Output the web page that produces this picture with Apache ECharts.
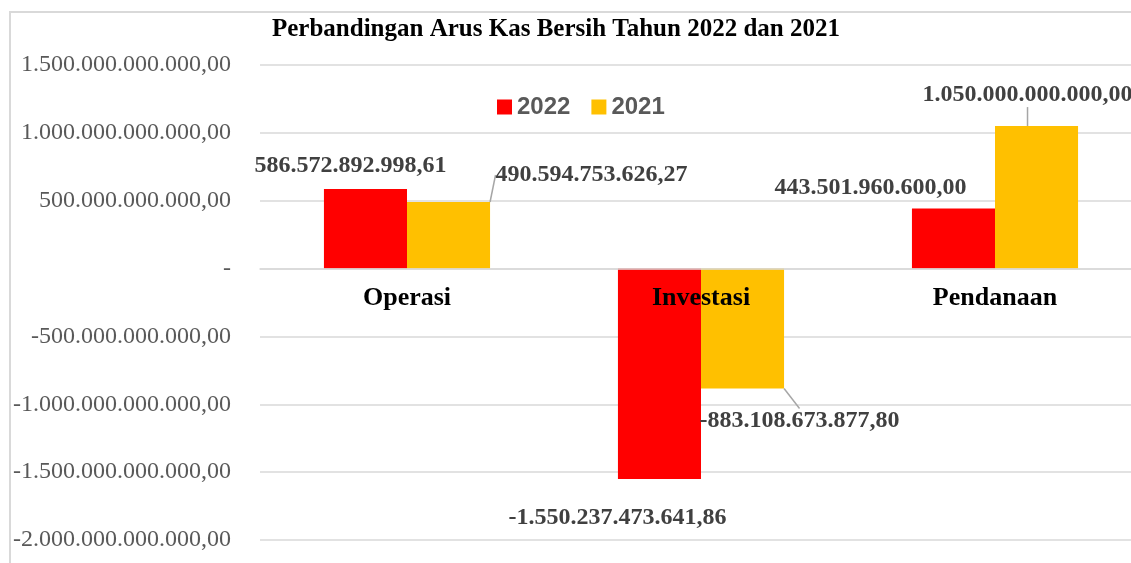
<!DOCTYPE html>
<html>
<head>
<meta charset="utf-8">
<script src="https://cdn.jsdelivr.net/npm/echarts@6/dist/echarts.min.js"></script>
<style>
  html, body { margin: 0; padding: 0; background: #fff; }
  #root { width: 1131px; height: 563px; }
</style>
</head>
<body>
<div id="root"></div>
<script>
const categories = ["Operasi", "Investasi", "Pendanaan"];
const seriesNames = ["2022", "2021"];
const values2022 = [586572892998.61, -1550237473641.86, 443501960600.00];
const values2021 = [490594753626.27, -883108673877.80, 1050000000000.00];
const yTicks = { min: -2000000000000, max: 1500000000000, interval: 500000000000 };

// label centre offsets from the bar end, px
const labelShift = [
  [[-15, -23], [-42, 39], [-83, -21]],
  [[143, -27], [57, 32], [-9, -31]]
];

const SERIF = '"Liberation Serif", "DejaVu Serif", serif';

function fmt(v) {
  const neg = v < 0;
  const s = Math.abs(v).toFixed(2).split(".");
  return (neg ? "-" : "") + s[0].replace(/\B(?=(\d{3})+(?!\d))/g, ".") + "," + s[1];
}

const allValues = [values2022, values2021];

function layoutFor(sIdx) {
  return function (params) {
    const r = params.rect;
    const v = allValues[sIdx][params.dataIndex];
    const endY = v < 0 ? r.y + r.height : r.y;
    const off = labelShift[sIdx][params.dataIndex];
    return {
      x: r.x + r.width / 2 + off[0],
      y: endY + off[1],
      align: "center",
      verticalAlign: "middle"
    };
  };
}

const chartDom = document.getElementById("root");
const myChart = echarts.init(chartDom);

const labelStyle = {
  show: true,
  position: "top",
  color: "#404040",
  fontFamily: SERIF,
  fontWeight: "bold",
  fontSize: 24,
  formatter: (p) => fmt(p.value)
};

// grid bottom is 540, zero line sits at 268 -> lift the category axis up to it
const GRID_TOP = 65, GRID_BOTTOM_Y = 540;
const zeroY = GRID_TOP + (GRID_BOTTOM_Y - GRID_TOP) * yTicks.max / (yTicks.max - yTicks.min);

myChart.setOption({
  animation: false,
  color: ["#FF0000", "#FFC000"],
  title: {
    text: "Perbandingan Arus Kas Bersih Tahun 2022 dan 2021",
    left: 267,
    top: 12,
    textStyle: { fontFamily: SERIF, fontWeight: "bold", fontSize: 25, color: "#000" }
  },
  graphic: [{
    type: "rect",
    shape: { x: 10, y: 12, width: 1200, height: 600 },
    style: { fill: "none", stroke: "#d9d9d9", lineWidth: 2 },
    silent: true,
    z: -10
  }],
  legend: {
    left: 492,
    top: 90,
    icon: "rect",
    itemWidth: 15,
    itemHeight: 15,
    itemGap: 21,
    data: seriesNames,
    textStyle: { fontFamily: '"Liberation Sans", Arial, sans-serif', fontWeight: "bold", fontSize: 24, color: "#595959" }
  },
  grid: { left: 260, right: -11, top: GRID_TOP, bottom: 563 - GRID_BOTTOM_Y, containLabel: false, outerBoundsMode: "none" },
  xAxis: {
    type: "category",
    data: categories,
    z: 10,
    offset: -(GRID_BOTTOM_Y - zeroY),
    axisLine: { show: true, onZero: false, lineStyle: { color: "#d9d9d9", width: 1.5 } },
    axisTick: { show: false },
    axisLabel: {
      margin: 17,
      color: "#000",
      fontFamily: SERIF,
      fontWeight: "bold",
      fontSize: 26
    }
  },
  yAxis: {
    type: "value",
    min: yTicks.min,
    max: yTicks.max,
    interval: yTicks.interval,
    axisLine: { show: false },
    axisTick: { show: false },
    splitLine: { lineStyle: { color: "#d9d9d9", width: 1.5 } },
    axisLabel: {
      margin: 29,
      color: "#595959",
      fontFamily: SERIF,
      fontSize: 24,
      formatter: (v) => (v === 0 ? "-" : fmt(v))
    }
  },
  series: [
    {
      name: seriesNames[0],
      type: "bar",
      data: values2022,
      barGap: "0%",
      barCategoryGap: "43.5%",
      label: labelStyle,
      labelLine: { show: false },
      labelLayout: layoutFor(0)
    },
    {
      name: seriesNames[1],
      type: "bar",
      data: values2021,
      barGap: "0%",
      barCategoryGap: "43.5%",
      label: labelStyle,
      labelLine: { show: true, lineStyle: { color: "#a6a6a6", width: 1.5 } },
      labelLayout: layoutFor(1)
    }
  ]
});
</script>
</body>
</html>
